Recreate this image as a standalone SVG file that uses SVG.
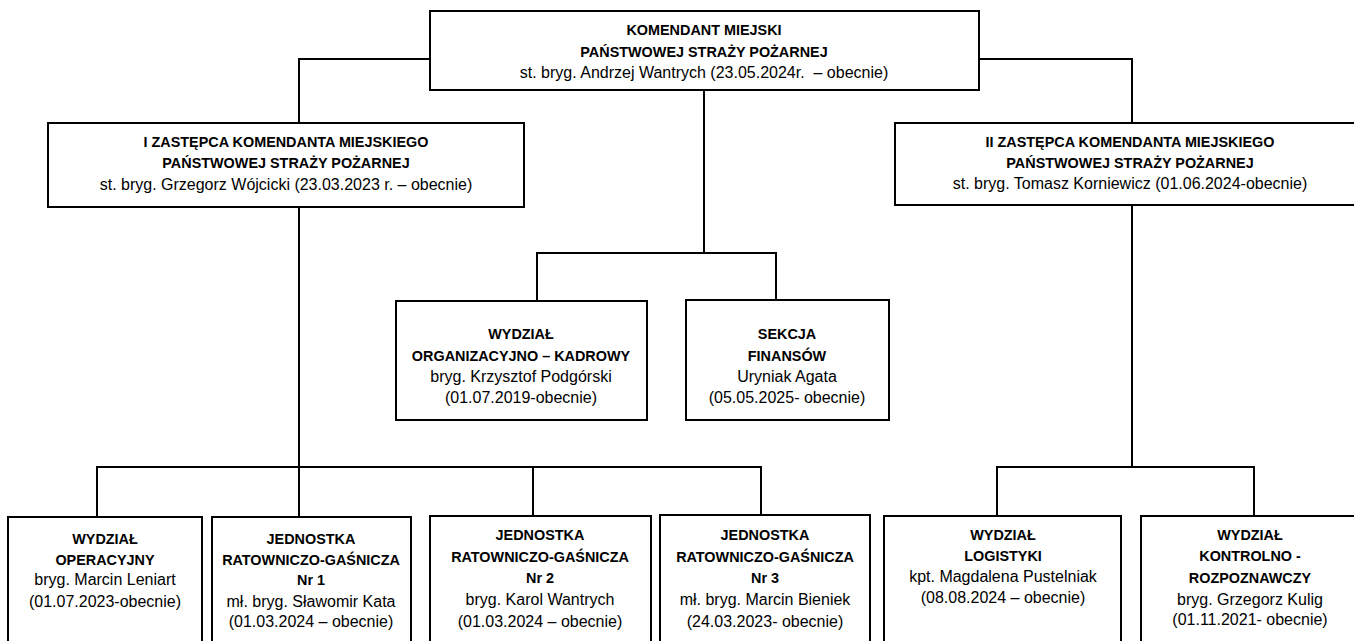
<svg xmlns="http://www.w3.org/2000/svg" width="1354" height="641" viewBox="0 0 1354 641">
<style>
.box{fill:#fff;stroke:#000;stroke-width:2}
.con{fill:none;stroke:#000;stroke-width:2}
text{font-family:"Liberation Sans",Arial,sans-serif;text-anchor:middle;fill:#000}
.b{font-weight:bold;font-size:14.4px}
.r{font-size:16px}
</style>
<rect width="1354" height="641" fill="#fff"/>
<g id="connectors">
<path class="con" d="M430 59 H299 V123"/>
<path class="con" d="M979 59 H1132 V123"/>
<path class="con" d="M704 90 V253"/>
<path class="con" d="M537 301 V253 H776 V301"/>
<path class="con" d="M299 207 V517"/>
<path class="con" d="M97 517 V467 H761 V516"/>
<path class="con" d="M533 467 V516"/>
<path class="con" d="M1132 205 V467"/>
<path class="con" d="M997 516 V467 H1254 V516"/>
</g>
<g id="komendant">
<rect class="box" x="430" y="11" width="549" height="79"/>
<text class="b" x="704" y="35">KOMENDANT MIEJSKI</text>
<text class="b" x="704" y="57">PAŃSTWOWEJ STRAŻY POŻARNEJ</text>
<text class="r" x="704" y="78" style="white-space:pre">st. bryg. Andrzej Wantrych (23.05.2024r.  – obecnie)</text>
</g>
<g id="zastepca1">
<rect class="box" x="48" y="123" width="476" height="84"/>
<text class="b" x="286" y="147">I ZASTĘPCA KOMENDANTA MIEJSKIEGO</text>
<text class="b" x="286" y="168">PAŃSTWOWEJ STRAŻY POŻARNEJ</text>
<text class="r" x="286" y="190">st. bryg. Grzegorz Wójcicki (23.03.2023 r. – obecnie)</text>
</g>
<g id="zastepca2">
<rect class="box" x="895" y="123" width="470" height="82"/>
<text class="b" x="1130" y="147">II ZASTĘPCA KOMENDANTA MIEJSKIEGO</text>
<text class="b" x="1130" y="168">PAŃSTWOWEJ STRAŻY POŻARNEJ</text>
<text class="r" x="1130" y="189">st. bryg. Tomasz Korniewicz (01.06.2024-obecnie)</text>
</g>
<g id="wydzial-org">
<rect class="box" x="396" y="301" width="251" height="119"/>
<text class="b" x="521" y="339">WYDZIAŁ</text>
<text class="b" x="521" y="361">ORGANIZACYJNO – KADROWY</text>
<text class="r" x="521" y="382">bryg. Krzysztof Podgórski</text>
<text class="r" x="521" y="403">(01.07.2019-obecnie)</text>
</g>
<g id="sekcja-finansow">
<rect class="box" x="686" y="300" width="203" height="120"/>
<text class="b" x="787" y="339">SEKCJA</text>
<text class="b" x="787" y="361">FINANSÓW</text>
<text class="r" x="787" y="382">Uryniak Agata</text>
<text class="r" x="787" y="403">(05.05.2025- obecnie)</text>
</g>
<g id="wydzial-operacyjny">
<rect class="box" x="8" y="517" width="194" height="150"/>
<text class="b" x="105" y="544">WYDZIAŁ</text>
<text class="b" x="105" y="565">OPERACYJNY</text>
<text class="r" x="105" y="585">bryg. Marcin Leniart</text>
<text class="r" x="105" y="607">(01.07.2023-obecnie)</text>
</g>
<g id="jrg1">
<rect class="box" x="212" y="517" width="199" height="150"/>
<text class="b" x="311" y="544">JEDNOSTKA</text>
<text class="b" x="311" y="565">RATOWNICZO-GAŚNICZA</text>
<text class="b" x="311" y="585">Nr 1</text>
<text class="r" x="311" y="607">mł. bryg. Sławomir Kata</text>
<text class="r" x="311" y="627">(01.03.2024 – obecnie)</text>
</g>
<g id="jrg2">
<rect class="box" x="430" y="516" width="221" height="150"/>
<text class="b" x="540" y="540">JEDNOSTKA</text>
<text class="b" x="540" y="562">RATOWNICZO-GAŚNICZA</text>
<text class="b" x="540" y="583">Nr 2</text>
<text class="r" x="540" y="605">bryg. Karol Wantrych</text>
<text class="r" x="540" y="627">(01.03.2024 – obecnie)</text>
</g>
<g id="jrg3">
<rect class="box" x="660" y="515" width="210" height="150"/>
<text class="b" x="765" y="540">JEDNOSTKA</text>
<text class="b" x="765" y="562">RATOWNICZO-GAŚNICZA</text>
<text class="b" x="765" y="583">Nr 3</text>
<text class="r" x="765" y="605">mł. bryg. Marcin Bieniek</text>
<text class="r" x="765" y="627">(24.03.2023- obecnie)</text>
</g>
<g id="wydzial-logistyki">
<rect class="box" x="884" y="516" width="237" height="150"/>
<text class="b" x="1003" y="540">WYDZIAŁ</text>
<text class="b" x="1003" y="561">LOGISTYKI</text>
<text class="r" x="1003" y="582">kpt. Magdalena Pustelniak</text>
<text class="r" x="1003" y="603">(08.08.2024 – obecnie)</text>
</g>
<g id="wydzial-kontrolno">
<rect class="box" x="1141" y="516" width="218" height="150"/>
<text class="b" x="1250" y="540">WYDZIAŁ</text>
<text class="b" x="1250" y="561">KONTROLNO -</text>
<text class="b" x="1250" y="583">ROZPOZNAWCZY</text>
<text class="r" x="1250" y="605">bryg. Grzegorz Kulig</text>
<text class="r" x="1250" y="625">(01.11.2021- obecnie)</text>
</g>
</svg>
